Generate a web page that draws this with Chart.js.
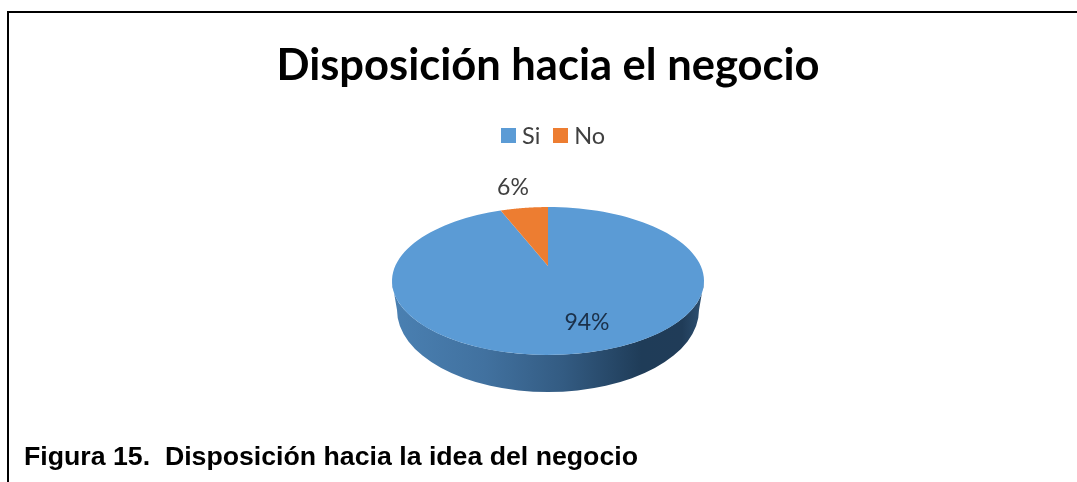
<!DOCTYPE html>
<html lang="es">
<head>
<meta charset="utf-8">
<title>Disposición hacia el negocio</title>
<script src="https://cdn.jsdelivr.net/npm/chart.js@4"></script>
<style>
  html, body { margin: 0; padding: 0; background: #fff; overflow: hidden; }
  #page { position: relative; width: 1077px; height: 482px; }
  #frame { position: absolute; left: 7px; top: 11px; right: 0; bottom: 0; border-left: 2px solid #000; border-top: 2px solid #000; }
  #chart-box { position: absolute; left: 0; top: 0; width: 1077px; height: 482px; }
  #legend { position: absolute; left: 501px; top: 120px; height: 30px; display: flex; align-items: center; font: 23.5px Lato, sans-serif; color: #404040; }
  #legend .item { display: flex; align-items: center; margin-right: 13px; }
  #legend .box { width: 15px; height: 15px; margin-right: 6px; }
  #caption { position: absolute; left: 24px; top: 441px; font: bold 26.7px "Liberation Sans", Arial, sans-serif; color: #000; white-space: pre; }
</style>
</head>
<body>
<div id="page">
  <div id="frame"></div>
  <div id="chart-box"><canvas id="pie-chart"></canvas></div>
  <div id="legend"></div>
  <div id="caption">Figura 15.  Disposición hacia la idea del negocio</div>
</div>
<script>
const categories = ['Si', 'No'];
const percentages = [94, 6];
const sliceColors = ['#5B9BD5', '#ED7D31'];

// Inclinación de la tarta: aplastada en vertical y con el centro desplazado hacia atrás
const squash = 0.474;
const faceCenterY = 281;
const tilt = 0.203;
const wall = { rx: 151, ry: 82, cy: 310 };
const labelColors = ['#1b3049', '#404040'];
const labelOffsets = [{ dx: 39, dy: 42 }, { dx: -35, dy: -93 }];

function projectAngle(el, angle) {
  const u = Math.cos(angle), v = Math.sin(angle);
  const d = 1 - tilt * v;
  return {
    x: el.x + el.outerRadius * u * Math.sqrt(1 - tilt * tilt) / d,
    y: faceCenterY + el.outerRadius * squash * (v - tilt) / d
  };
}

function drawWall(ctx, el) {
  const r = el.outerRadius;
  const g = ctx.createLinearGradient(el.x - r, 0, el.x + r, 0);
  g.addColorStop(0, '#4a80b2');
  g.addColorStop(0.3, '#41719f');
  g.addColorStop(0.55, '#335b82');
  g.addColorStop(0.8, '#1f3c58');
  g.addColorStop(0.93, '#203c58');
  g.addColorStop(1, '#2f5274');
  ctx.beginPath();
  ctx.ellipse(el.x, faceCenterY, r, r * squash, 0, 0, Math.PI);
  ctx.lineTo(el.x - wall.rx, wall.cy);
  ctx.ellipse(el.x, wall.cy, wall.rx, wall.ry, 0, Math.PI, 0, true);
  ctx.closePath();
  ctx.fillStyle = g;
  ctx.fill();
}

function drawSlice(ctx, el, color) {
  const apexY = faceCenterY - el.outerRadius * squash * tilt;
  ctx.beginPath();
  ctx.moveTo(el.x, apexY);
  const steps = 120;
  for (let i = 0; i <= steps; i++) {
    const p = projectAngle(el, el.startAngle + (el.endAngle - el.startAngle) * i / steps);
    ctx.lineTo(p.x, p.y);
  }
  ctx.closePath();
  ctx.fillStyle = color;
  ctx.fill();
}

// Dibuja la tarta 3D a partir de los arcos calculados por Chart.js
const pie3d = {
  id: 'pie3d',
  beforeDatasetsDraw(chart) {
    const { ctx } = chart;
    const arcs = chart.getDatasetMeta(0).data;
    ctx.save();
    drawWall(ctx, arcs[0]);
    arcs.forEach((el, i) => drawSlice(ctx, el, sliceColors[i]));
    ctx.font = '23px Lato, "Open Sans", sans-serif';
    ctx.textAlign = 'center';
    ctx.textBaseline = 'middle';
    arcs.forEach((el, i) => {
      ctx.fillStyle = labelColors[i];
      ctx.fillText(percentages[i] + '%', el.x + labelOffsets[i].dx, faceCenterY + labelOffsets[i].dy);
    });
    ctx.restore();
    return false;
  }
};

new Chart(document.getElementById('pie-chart'), {
  type: 'pie',
  data: {
    labels: categories,
    datasets: [{
      data: percentages,
      backgroundColor: sliceColors,
      borderWidth: 0,
      radius: 156
    }]
  },
  options: {
    responsive: true,
    maintainAspectRatio: false,
    animation: false,
    layout: { padding: { left: 19, top: 40, bottom: 10 } },
    plugins: {
      title: {
        display: true,
        text: 'Disposición hacia el negocio',
        color: '#000',
        font: { family: 'Lato', size: 43.5, weight: 'bold' },
        padding: { top: 0, bottom: 14 }
      },
      legend: { display: false },
      tooltip: { enabled: false }
    }
  },
  plugins: [pie3d]
});

// Leyenda en HTML para controlar la separación entre cuadro y texto
const legendEl = document.getElementById('legend');
categories.forEach((name, i) => {
  const item = document.createElement('div');
  item.className = 'item';
  const box = document.createElement('span');
  box.className = 'box';
  box.style.background = sliceColors[i];
  const label = document.createElement('span');
  label.textContent = name;
  item.append(box, label);
  legendEl.append(item);
});
</script>
</body>
</html>
